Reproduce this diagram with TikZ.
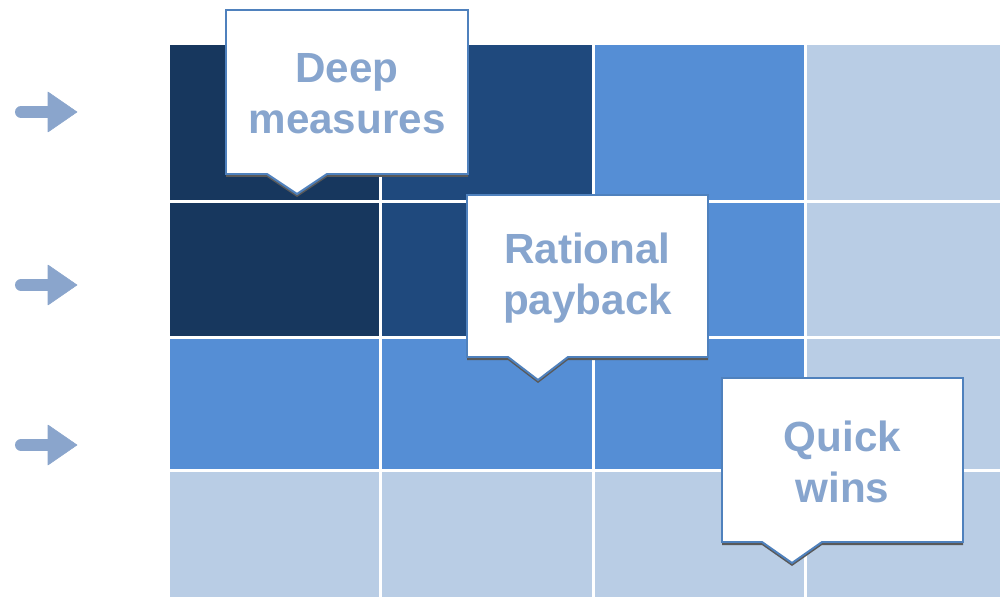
\documentclass[tikz,border=0pt]{standalone}
\usepackage{fontspec}
\setmainfont{Liberation Sans}
\usetikzlibrary{positioning}

\definecolor{navy}{HTML}{17375E}
\definecolor{darkblue}{HTML}{1F497D}
\definecolor{midblue}{HTML}{558ED5}
\definecolor{paleblue}{HTML}{B9CDE5}
\definecolor{bubbleline}{HTML}{4F81BD}
\definecolor{bubbletext}{HTML}{87A5CE}
\definecolor{arrowblue}{HTML}{8AA5CC}

% speech bubble: name, left, top, right, bottom, tip x, tip y, text
\newcommand{\bubble}[8]{%
  \fill[black!65] (#2,#3+3) -- (#4,#3+3) -- (#4,#5+3) -- (#6+30,#5+3)
    -- (#6,#7+3) -- (#6-30,#5+3) -- (#2,#5+3) -- cycle;
  \draw[bubble] (#2,#3) -- (#4,#3) -- (#4,#5) -- (#6+30,#5)
    -- (#6,#7) -- (#6-30,#5) -- (#2,#5) -- cycle;
  \node[bubble text] (#1) at ({(#2+#4)/2},{(#3+#5)/2+2}) {#8};
}

\begin{document}
\begin{tikzpicture}[x=0.025cm,y=-0.025cm,
    cell/.style={fill=#1},
    grid line/.style={draw=white,line width=0.075cm},
    bubble/.style={draw=bubbleline,fill=white,line width=1.4pt,line join=miter},
    bubble text/.style={align=center,text=bubbletext,
      font=\fontsize{30}{36}\selectfont\bfseries},
    row arrow/.style={fill=arrowblue,draw=arrowblue,line join=round}]
  \useasboundingbox (0,0) rectangle (1000,597);

  % coloured cells, one row at a time
  \foreach \y/\yy/\ca/\cb/\cc/\cd in {45/202/navy/darkblue/midblue/paleblue,
                                      202/337/navy/darkblue/midblue/paleblue,
                                      337/470/midblue/midblue/midblue/paleblue,
                                      470/597/paleblue/paleblue/paleblue/paleblue}{
    \fill[cell=\ca] (170,\y) rectangle (380,\yy);
    \fill[cell=\cb] (380,\y) rectangle (593,\yy);
    \fill[cell=\cc] (593,\y) rectangle (805,\yy);
    \fill[cell=\cd] (805,\y) rectangle (1000,\yy);
  }
  \foreach \x in {380,593,805}
    \draw[grid line] (\x,45) -- (\x,597);
  \foreach \y in {202,337,470}
    \draw[grid line] (170,\y) -- (1000,\y);

  % arrows on the left
  \foreach \y in {112,285,445}{
    \draw[arrowblue,line width=0.3cm,line cap=round] (21,\y) -- (50,\y);
    \filldraw[row arrow] (48,\y-20) -- (77,\y) -- (48,\y+20) -- cycle;
  }

  \bubble{deep}{226}{10}{468}{174}{297}{194}{Deep\\measures}
  \bubble{payback}{467}{195}{708}{357}{538}{380}{Rational\\payback}
  \bubble{quick}{722}{378}{963}{542}{792}{563}{Quick\\wins}
\end{tikzpicture}
\end{document}
